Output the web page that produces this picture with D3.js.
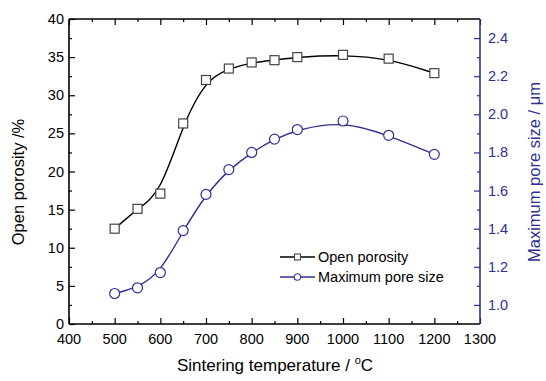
<!DOCTYPE html>
<html>
<head>
<meta charset="utf-8">
<script src="https://cdn.jsdelivr.net/npm/d3@7"></script>
<style>
  html, body { margin: 0; padding: 0; background: #fff; }
  svg { display: block; font-family: "Liberation Sans", Arial, sans-serif; }
</style>
</head>
<body>
<div id="chart"></div>
<script>
// data
const temperatures = [500, 550, 600, 650, 700, 750, 800, 850, 900, 1000, 1100, 1200];
const openPorosity = [12.5, 15.1, 17.1, 26.3, 32.0, 33.5, 34.3, 34.6, 35.0, 35.3, 34.8, 32.9];
const maxPoreSize = [1.06, 1.09, 1.17, 1.39, 1.58, 1.71, 1.80, 1.87, 1.92, 1.965, 1.89, 1.79];
const xTicks = [400, 500, 600, 700, 800, 900, 1000, 1100, 1200, 1300];
const leftTicks = [0, 5, 10, 15, 20, 25, 30, 35, 40];
const rightTicks = [1.0, 1.2, 1.4, 1.6, 1.8, 2.0, 2.2, 2.4];
const seriesNames = ['Open porosity', 'Maximum pore size'];

const W = 546, H = 381;
const plot = { left: 69, right: 480, top: 19, bottom: 324 };
const blue = '#2e3192';

const svg = d3.select('#chart').append('svg')
  .attr('width', W).attr('height', H);

const x = d3.scaleLinear().domain([400, 1300]).range([plot.left, plot.right]);
const yL = d3.scaleLinear().domain([0, 40]).range([plot.bottom, plot.top]);
const yR = d3.scaleLinear().domain([0.9, 2.5]).range([plot.bottom, plot.top]);

// minor tick helper: inward ticks, no labels
function minorAxis(axisFn, scale, values) {
  return axisFn(scale).tickValues(values).tickSize(3).tickFormat('');
}

const xMinor = d3.range(450, 1300, 100);
const lMinor = d3.range(2.5, 40, 5);
const rMinor = d3.range(1.1, 2.5, 0.2);

// bottom axis
const gx = svg.append('g').attr('transform', `translate(0,${plot.bottom})`);
gx.call(d3.axisTop(x).tickValues(xTicks).tickSize(6).tickFormat(''));
gx.append('g').call(minorAxis(d3.axisTop, x, xMinor));
gx.append('g').selectAll('text').data(xTicks).join('text')
  .attr('x', d => x(d)).attr('y', 20)
  .attr('text-anchor', 'middle').attr('font-size', 14.5).attr('fill', '#000')
  .text(d => d);

// top axis mirror
const gt = svg.append('g').attr('transform', `translate(0,${plot.top})`);
gt.call(d3.axisBottom(x).tickValues(xTicks).tickSize(6).tickFormat(''));
gt.append('g').call(minorAxis(d3.axisBottom, x, xMinor));

// left axis
const gl = svg.append('g').attr('transform', `translate(${plot.left},0)`);
gl.call(d3.axisRight(yL).tickValues(leftTicks).tickSize(6).tickFormat(''));
gl.append('g').call(minorAxis(d3.axisRight, yL, lMinor));
gl.append('g').selectAll('text').data(leftTicks).join('text')
  .attr('x', -5).attr('y', d => yL(d) + 5)
  .attr('text-anchor', 'end').attr('font-size', 14.5).attr('fill', '#000')
  .text(d => d);

// right axis (blue)
const gr = svg.append('g').attr('transform', `translate(${plot.right},0)`);
gr.call(d3.axisLeft(yR).tickValues(rightTicks).tickSize(6).tickFormat(''));
gr.append('g').call(minorAxis(d3.axisLeft, yR, rMinor));
gr.selectAll('path, line').attr('stroke', blue);
gr.append('g').selectAll('text').data(rightTicks).join('text')
  .attr('x', 8).attr('y', d => yR(d) + 5)
  .attr('text-anchor', 'start').attr('font-size', 14.5).attr('fill', blue)
  .text(d => d.toFixed(1));

// axis line styles
svg.selectAll('.domain').attr('stroke-width', 1.6);
svg.selectAll('.tick line').attr('stroke-width', 1.2);
gl.select('.domain').attr('d', `M0,${plot.top}V${plot.bottom}`);
gr.selectAll('.domain').attr('d', `M0,${plot.top}V${plot.bottom}`);
gx.select('.domain').attr('d', `M${plot.left},0H${plot.right}`);
gt.select('.domain').attr('d', `M${plot.left},0H${plot.right}`);
svg.selectAll('g g .domain').remove();

// axis titles
svg.append('text')
  .attr('x', 275).attr('y', 371)
  .attr('text-anchor', 'middle').attr('font-size', 17)
  .html('Sintering temperature / <tspan dy="-7" font-size="11">o</tspan><tspan dy="7">C</tspan>');

svg.append('text')
  .attr('transform', 'translate(24,182) rotate(-90)')
  .attr('text-anchor', 'middle').attr('font-size', 16.5)
  .text('Open porosity /%');

svg.append('text')
  .attr('transform', 'translate(540,172) rotate(-90)')
  .attr('text-anchor', 'middle').attr('font-size', 16.5).attr('fill', blue)
  .text('Maximum pore size / μm');

// curves
const lineL = d3.line().curve(d3.curveBasis)
  .x((d, i) => x(temperatures[i])).y(d => yL(d));
const lineR = d3.line().curve(d3.curveBasis)
  .x((d, i) => x(temperatures[i])).y(d => yR(d));

svg.append('path').datum(openPorosity)
  .attr('d', lineL).attr('fill', 'none').attr('stroke', '#000').attr('stroke-width', 1.4);
svg.append('path').datum(maxPoreSize)
  .attr('d', lineR).attr('fill', 'none').attr('stroke', blue).attr('stroke-width', 1.4);

// markers
const sq = 9;
svg.append('g').selectAll('rect').data(openPorosity).join('rect')
  .attr('x', (d, i) => x(temperatures[i]) - sq / 2)
  .attr('y', d => yL(d) - sq / 2)
  .attr('width', sq).attr('height', sq)
  .attr('fill', '#fff').attr('stroke', '#444').attr('stroke-width', 1.2);

svg.append('g').selectAll('circle').data(maxPoreSize).join('circle')
  .attr('cx', (d, i) => x(temperatures[i]))
  .attr('cy', d => yR(d))
  .attr('r', 5)
  .attr('fill', '#fff').attr('stroke', blue).attr('stroke-width', 1.2);

// legend
const legend = svg.append('g').attr('transform', 'translate(280,257)');
const colors = ['#000', blue];
seriesNames.forEach((name, i) => {
  const g = legend.append('g').attr('transform', `translate(0,${i * 20})`);
  g.append('line').attr('x1', 0).attr('x2', 35).attr('y1', 0).attr('y2', 0)
    .attr('stroke', colors[i]).attr('stroke-width', 1.4);
  if (i === 0) {
    g.append('rect').attr('x', 14.5).attr('y', -3).attr('width', 6).attr('height', 6)
      .attr('fill', '#fff').attr('stroke', '#444').attr('stroke-width', 1.1);
  } else {
    g.append('circle').attr('cx', 17.5).attr('cy', 0).attr('r', 3.3)
      .attr('fill', '#fff').attr('stroke', blue).attr('stroke-width', 1.1);
  }
  g.append('text').attr('x', 38).attr('y', 5).attr('font-size', 14.5).attr('fill', '#000')
    .text(name);
});
</script>
</body>
</html>
